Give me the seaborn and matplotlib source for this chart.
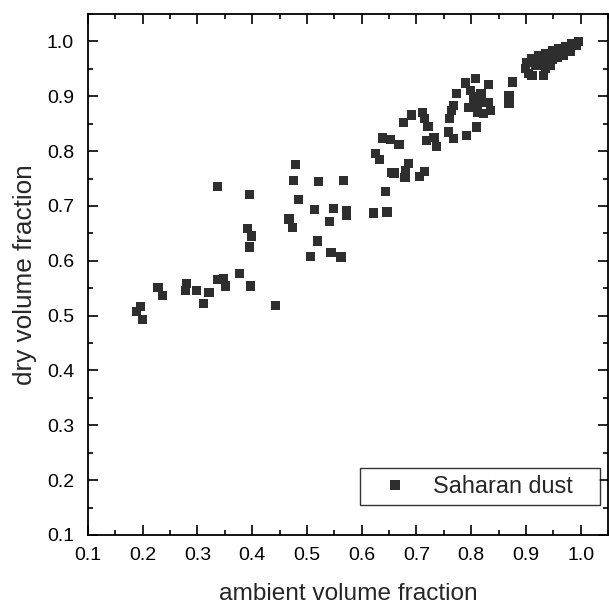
"""
Scatter of dry vs ambient volume fraction for Saharan dust.
"""

import matplotlib

matplotlib.use("Agg")
import matplotlib.pyplot as plt
import pandas as pd
import seaborn as sns
from matplotlib.ticker import MultipleLocator

# ambient volume fraction (x) and dry volume fraction (y)
ambient = [
    0.196, 0.189, 0.200, 0.228, 0.236, 0.280, 0.278, 0.298, 0.321, 0.311,
    0.336, 0.348, 0.351, 0.377, 0.397, 0.336, 0.395, 0.391, 0.398, 0.395,
    0.442, 0.479, 0.476, 0.521, 0.566, 0.484, 0.514, 0.549, 0.572, 0.572,
    0.541, 0.467, 0.474, 0.519, 0.506, 0.544, 0.562, 0.622, 0.646, 0.644,
    0.654, 0.625, 0.632, 0.638, 0.652, 0.668, 0.676, 0.691, 0.711, 0.714,
    0.721, 0.718, 0.732, 0.737, 0.685, 0.680, 0.679, 0.659, 0.705, 0.714,
    0.758, 0.768, 0.791, 0.809, 0.761, 0.764, 0.767, 0.773, 0.790, 0.808,
    0.831, 0.798, 0.805, 0.818, 0.832, 0.796, 0.811, 0.835, 0.823, 0.811,
    0.805, 0.823, 0.875, 0.869, 0.869, 0.905, 0.932, 0.899, 0.902, 0.911,
    0.923, 0.935, 0.948, 0.960, 0.972, 0.984, 0.996, 0.993, 0.981, 0.969,
    0.957, 0.942, 0.945, 0.930, 0.935, 0.917, 0.911, 0.948, 0.926,
]
dry = [
    0.516, 0.508, 0.493, 0.551, 0.537, 0.559, 0.546, 0.546, 0.542, 0.522,
    0.566, 0.568, 0.554, 0.577, 0.554, 0.735, 0.721, 0.659, 0.645, 0.625,
    0.518, 0.776, 0.746, 0.745, 0.746, 0.712, 0.693, 0.696, 0.682, 0.692,
    0.672, 0.676, 0.661, 0.636, 0.608, 0.615, 0.607, 0.687, 0.689, 0.727,
    0.761, 0.795, 0.785, 0.824, 0.821, 0.812, 0.852, 0.866, 0.871, 0.859,
    0.845, 0.820, 0.825, 0.809, 0.777, 0.765, 0.752, 0.760, 0.753, 0.763,
    0.835, 0.823, 0.829, 0.844, 0.859, 0.874, 0.883, 0.905, 0.924, 0.932,
    0.921, 0.911, 0.899, 0.905, 0.889, 0.880, 0.883, 0.874, 0.868, 0.871,
    0.893, 0.889, 0.926, 0.902, 0.887, 0.941, 0.938, 0.950, 0.962, 0.968,
    0.974, 0.978, 0.984, 0.987, 0.990, 0.996, 1.000, 0.993, 0.981, 0.974,
    0.971, 0.962, 0.956, 0.956, 0.950, 0.956, 0.938, 0.968, 0.962,
]
series = ["Saharan dust"] * len(ambient)

sns.set_style("ticks")
plt.rcParams["font.family"] = ["Liberation Sans", "DejaVu Sans"]

df = pd.DataFrame({"ambient": ambient, "dry": dry, "series": series})

fig = plt.figure(figsize=(6.09, 6.03), dpi=100)
ax = fig.add_axes([0.1445, 0.1128, 0.854, 0.864])
sns.scatterplot(
    data=df, x="ambient", y="dry", hue="series", palette=["#2e2e2e"],
    marker="s", s=44, linewidth=0, ax=ax,
)

ax.set_xlim(0.1, 1.05)
ax.set_ylim(0.1, 1.05)
ax.xaxis.set_major_locator(MultipleLocator(0.1))
ax.yaxis.set_major_locator(MultipleLocator(0.1))
ax.xaxis.set_minor_locator(MultipleLocator(0.05))
ax.yaxis.set_minor_locator(MultipleLocator(0.05))
ax.xaxis.set_major_formatter(plt.FuncFormatter(lambda v, p: f"{v:.1f}"))
ax.yaxis.set_major_formatter(plt.FuncFormatter(lambda v, p: f"{v:.1f}"))
ax.tick_params(which="both", direction="in", top=True, right=True,
               colors="black", width=1.2, labelsize=14)
ax.tick_params(which="major", length=7)
ax.tick_params(axis="x", which="major", pad=9)
ax.tick_params(axis="y", which="major", pad=10)
ax.tick_params(which="minor", length=3.5)
for sp in ax.spines.values():
    sp.set_linewidth(1.3)
    sp.set_color("black")

ax.set_xlabel("ambient volume fraction", fontsize=17.6, labelpad=13)
ax.set_ylabel("dry volume fraction", fontsize=18.8, labelpad=7)

leg = ax.legend(loc="lower left", bbox_to_anchor=(0.523, 0.0576, 0.462, 0.075),
                mode="expand", borderaxespad=0, fontsize=16.8, frameon=True,
                fancybox=False, borderpad=0.3, handlelength=2.4,
                handletextpad=0.42)
leg.get_frame().set_edgecolor("black")
leg.get_frame().set_linewidth(1.0)

plt.savefig("out.png", dpi=100)
plt.close()
